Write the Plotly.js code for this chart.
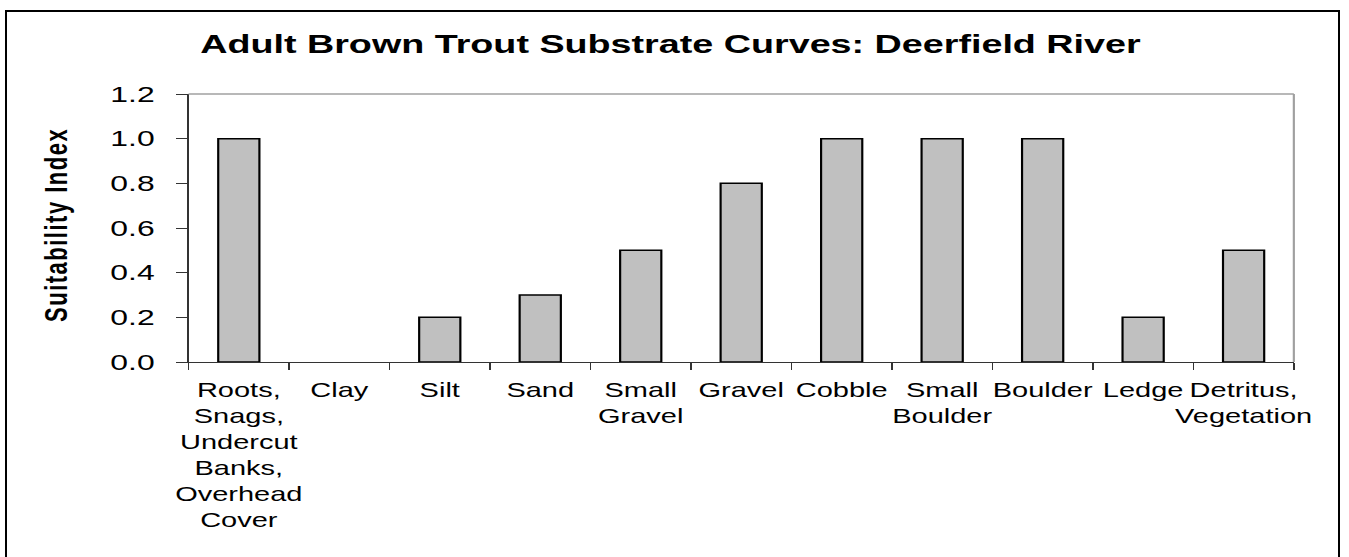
<!DOCTYPE html>
<html>
<head>
<meta charset="utf-8">
<script src="https://cdn.plot.ly/plotly-3.0.1.min.js"></script>
<style>
  html, body { margin: 0; padding: 0; background: #fff; overflow: hidden; width: 1349px; height: 557px; }
  #frame { position: absolute; left: 5px; top: 10px; width: 1335px; height: 600px; border: 2px solid #000; box-sizing: border-box; pointer-events: none; z-index: 2; }
  #wrap { position: absolute; left: 0; top: 0; width: 930px; height: 557px; transform: scaleX(1.4505); transform-origin: 0 0; }
  #chart { width: 930px; height: 557px; }
  .annotation-text { letter-spacing: 1.5px; }
</style>
</head>
<body>
<div id="wrap"><div id="chart"></div></div>
<div id="frame"></div>
<script>
const categories = [
  "Roots,<br>Snags,<br>Undercut<br>Banks,<br>Overhead<br>Cover",
  "Clay",
  "Silt",
  "Sand",
  "Small<br>Gravel",
  "Gravel",
  "Cobble",
  "Small<br>Boulder",
  "Boulder",
  "Ledge",
  "Detritus,<br>Vegetation"
];
const suitability = [1.0, 0.0, 0.2, 0.3, 0.5, 0.8, 1.0, 1.0, 1.0, 0.2, 0.5];
const yTickVals = [0, 0.2, 0.4, 0.6, 0.8, 1.0, 1.2];
const yTickText = ["0.0", "0.2", "0.4", "0.6", "0.8", "1.0", "1.2"];
const chartTitle = "Adult Brown Trout Substrate Curves: Deerfield River";
const yTitle = "Suitability Index";

const font = "Arial, 'Liberation Sans', sans-serif";

const trace = {
  type: "bar",
  x: categories,
  y: suitability,
  marker: {
    color: "#C0C0C0",
    line: { color: "#000000", width: suitability.map(v => (v === 0 ? 0 : 1.5)) }
  },
  hoverinfo: "skip"
};

const layout = {
  width: 930,
  height: 557,
  margin: { l: 130, r: 38, t: 94, b: 195 },
  paper_bgcolor: "#ffffff",
  plot_bgcolor: "#ffffff",
  showlegend: false,
  bargap: 0.59,
  title: {
    text: "<b>" + chartTitle + "</b>",
    font: { family: font, size: 26, color: "#000" },
    x: 0.497, xref: "container", xanchor: "center",
    y: 1 - 44 / 557, yref: "container", yanchor: "middle"
  },
  xaxis: {
    type: "category",
    showline: true, linecolor: "#333333", linewidth: 1,
    ticks: "outside", tickson: "boundaries", ticklen: 7, tickcolor: "#333333", tickwidth: 1,
    tickangle: 0,
    ticklabelstandoff: 10,
    tickfont: { family: font, size: 20, color: "#000" },
    showgrid: false, zeroline: false,
    fixedrange: true
  },
  yaxis: {
    range: [0, 1.2],
    tickvals: yTickVals, ticktext: yTickText,
    showline: true, linecolor: "#333333", linewidth: 1,
    ticks: "outside", ticklen: 8, tickcolor: "#333333", tickwidth: 1,
    ticklabelstandoff: 10,
    tickfont: { family: font, size: 22, color: "#000" },
    showgrid: false, zeroline: false,
    automargin: false,
    fixedrange: true
  },
  annotations: [
    {
      text: "<b>" + yTitle + "</b>",
      xref: "paper", yref: "paper", x: 0, y: 0.5,
      xanchor: "center", yanchor: "middle",
      xshift: -92, yshift: 3,
      textangle: -90, showarrow: false,
      font: { family: font, size: 22, color: "#000" }
    }
  ],
  shapes: [
    { type: "line", xref: "paper", yref: "paper", x0: 0, x1: 1, y0: 1, y1: 1, line: { color: "#A0A0A0", width: 1.5 } },
    { type: "line", xref: "paper", yref: "paper", x0: 1, x1: 1, y0: 0, y1: 1, line: { color: "#A0A0A0", width: 1.5 } }
  ]
};

Plotly.newPlot("chart", [trace], layout, { displayModeBar: false, staticPlot: true });
</script>
</body>
</html>
